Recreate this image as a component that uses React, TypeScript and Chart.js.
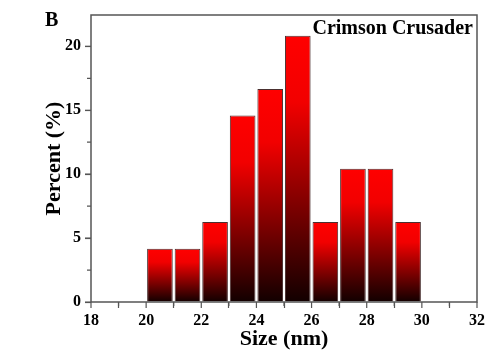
import React, { useEffect, useRef } from "react";
import { Chart, registerables } from "chart.js";

Chart.register(...registerables);

const binCenters = [20.5, 21.5, 22.5, 23.5, 24.5, 25.5, 26.5, 27.5, 28.5, 29.5];
const percents = [4.17, 4.17, 6.25, 14.58, 16.67, 20.83, 6.25, 10.42, 10.42, 6.25];
const sampleLabel = "Crimson Crusader";
const panelLetter = "B";
const xTitle = "Size (nm)";
const yTitle = "Percent (%)";

const FONT = "'Liberation Serif', 'Times New Roman', serif";

const framePlugin = {
  id: "frame",
  afterDraw(chart: any) {
    const { ctx, chartArea: a, scales } = chart;
    ctx.save();
    ctx.strokeStyle = "#555";
    ctx.lineWidth = 1.5;
    ctx.strokeRect(a.left, a.top, a.right - a.left, a.bottom - a.top);
    ctx.lineWidth = 1.2;
    ctx.beginPath();
    for (let v = 18; v <= 32; v += 1) {
      const px = scales.x.getPixelForValue(v);
      const len = v % 2 === 0 ? 6 : 4;
      ctx.moveTo(px, a.bottom);
      ctx.lineTo(px, a.bottom + len);
    }
    for (let v = 0; v <= 22; v += 2.5) {
      const py = scales.y.getPixelForValue(v);
      const len = v % 5 === 0 ? 6 : 4;
      ctx.moveTo(a.left, py);
      ctx.lineTo(a.left - len, py);
    }
    ctx.stroke();
    ctx.fillStyle = "#000";
    ctx.font = `bold 20px ${FONT}`;
    ctx.textBaseline = "alphabetic";
    ctx.textAlign = "right";
    ctx.fillText(sampleLabel, a.right - 4, a.top + 19);
    ctx.textAlign = "left";
    ctx.fillText(panelLetter, 45, 26);
    ctx.restore();
  },
};

export default function App() {
  const ref = useRef<HTMLCanvasElement>(null);
  useEffect(() => {
    if (!ref.current) return;
    const chart = new Chart(ref.current, {
      type: "bar",
      data: {
        datasets: [
          {
            data: binCenters.map((x, i) => ({ x, y: percents[i] })),
            backgroundColor: (c: any) => {
              const ch = c.chart;
              if (!ch.chartArea || c.raw == null) return "#f00";
              const y = ch.scales.y;
              const top = y.getPixelForValue(c.raw.y);
              const bot = y.getPixelForValue(0);
              const g = ch.ctx.createLinearGradient(0, top, 0, bot);
              g.addColorStop(0, "#ff0000");
              g.addColorStop(0.25, "#f20000");
              g.addColorStop(1, "#120000");
              return g;
            },
            borderColor: "#4a3030",
            borderWidth: 1,
            barPercentage: 1,
            categoryPercentage: 0.93,
          } as any,
        ],
      },
      plugins: [framePlugin],
      options: {
        animation: false,
        responsive: false,
        layout: { padding: { left: 0, top: 15, right: 23, bottom: 0 } },
        plugins: { legend: { display: false }, tooltip: { enabled: false } },
        scales: {
          x: {
            type: "linear",
            min: 18,
            max: 32,
            offset: false,
            afterFit: (s: any) => {
              s.height = 58;
            },
            grid: {
              drawOnChartArea: false,
              tickLength: 6,
              tickColor: "#555",
              tickWidth: 1.2,
            },
            border: { display: false },
            ticks: {
              stepSize: 2,
              padding: 3,
              color: "#000",
              font: { family: FONT, size: 16, weight: "bold" },
            },
            title: {
              display: true,
              text: xTitle,
              color: "#000",
              font: { family: FONT, size: 22, weight: "bold" },
              padding: { top: 0, bottom: 7 },
            },
          },
          y: {
            min: 0,
            max: 22.45,
            afterFit: (s: any) => {
              s.width = 91;
            },
            afterBuildTicks: (s: any) => {
              s.ticks = s.ticks.filter((t: any) => t.value % 5 === 0);
            },
            grid: {
              drawOnChartArea: false,
              tickLength: 6,
              tickColor: "#555",
              tickWidth: 1.2,
            },
            border: { display: false },
            ticks: {
              stepSize: 5,
              padding: 4,
              color: "#000",
              font: { family: FONT, size: 16, weight: "bold" },
            },
            title: {
              display: true,
              text: yTitle,
              color: "#000",
              font: { family: FONT, size: 22, weight: "bold" },
              padding: { top: 41, bottom: 0 },
            },
          },
        },
      },
    } as any);
    return () => chart.destroy();
  }, []);
  return (
    <div style={{ position: "absolute", left: 0, top: 0, width: 500, height: 360, background: "#fff" }}>
      <canvas ref={ref} width={500} height={360} />
    </div>
  );
}
